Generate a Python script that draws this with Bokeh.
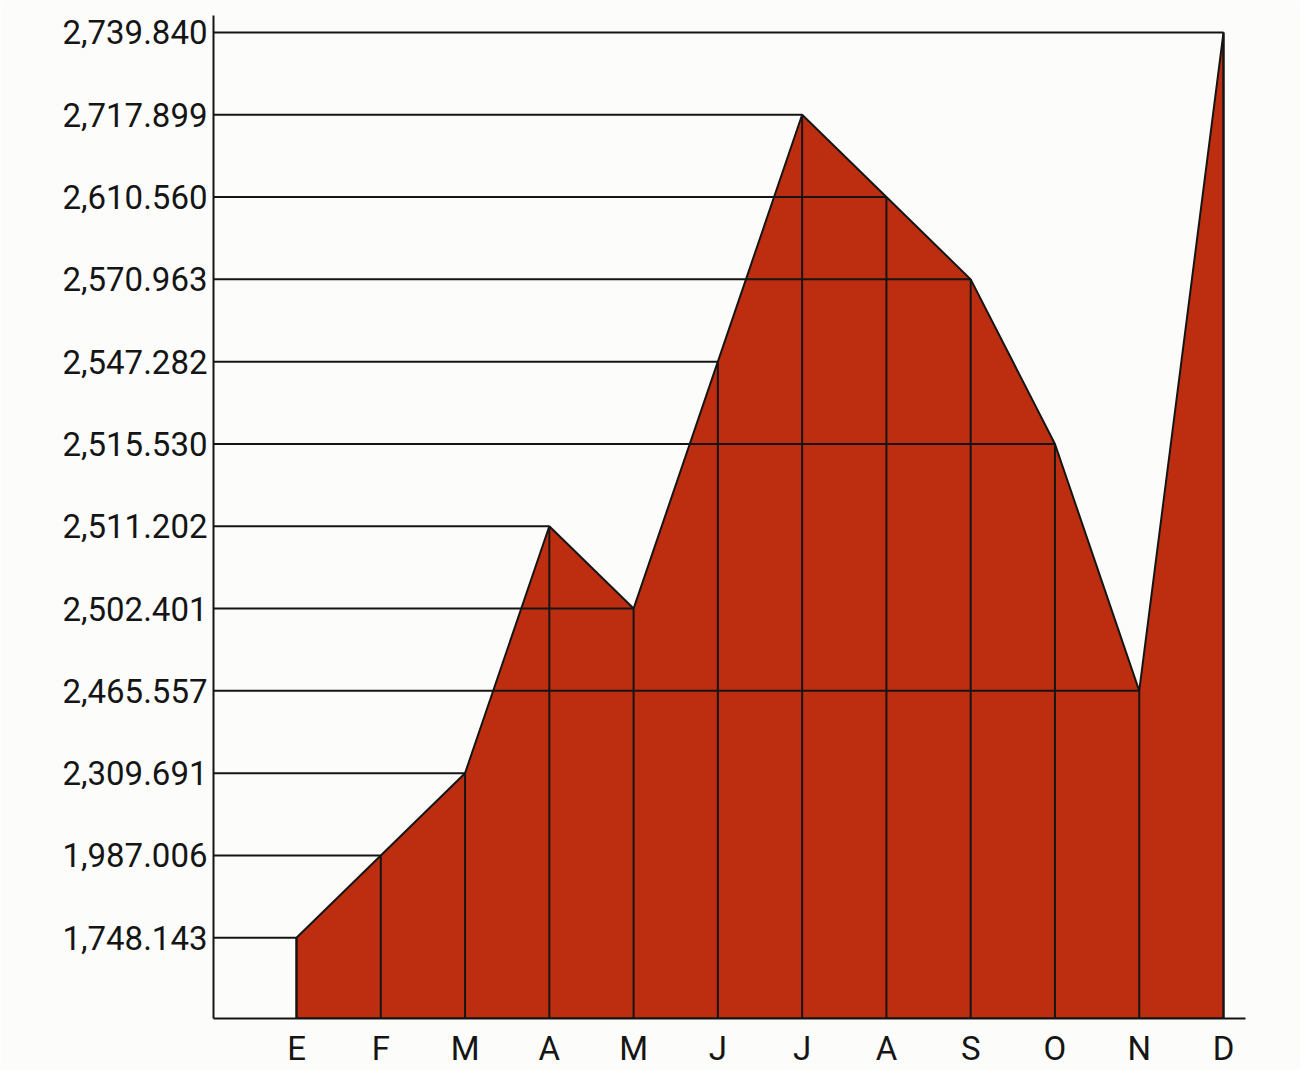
from bokeh.plotting import figure
from bokeh.models import ColumnDataSource, FixedTicker, Range1d
from bokeh.embed import file_html
from bokeh.resources import INLINE

# ---- data ----
months = ["E", "F", "M", "A", "M", "J", "J", "A", "S", "O", "N", "D"]
values = [1748.143, 1987.006, 2309.691, 2511.202, 2502.401, 2547.282,
          2717.899, 2610.560, 2570.963, 2515.530, 2465.557, 2739.840]
value_labels = ["1,748.143", "1,987.006", "2,309.691", "2,511.202", "2,502.401", "2,547.282",
                "2,717.899", "2,610.560", "2,570.963", "2,515.530", "2,465.557", "2,739.840"]

# the original vertical scale is ordinal: each value gets its own evenly spaced level
order = sorted(values)
ranks = [order.index(v) for v in values]
xs = list(range(len(months)))

FILL = "#bd2e10"
INK = "#151515"
FONT = "Roboto"

x_range = Range1d(-0.985, 11.261)
y_range = Range1d(-0.981, 11.206)

W, H = 1300, 1070
p = figure(width=W, height=H, x_range=x_range, y_range=y_range,
           output_backend="svg", toolbar_location=None,
           min_border_left=213, min_border_right=W - 1245, min_border_top=15,
           min_border_bottom=H - 1021)
p.background_fill_color = "#fcfcfa"
p.border_fill_color = "#fcfcfa"
p.outline_line_color = None
p.grid.visible = False

x0 = x_range.start
y0 = y_range.start

# filled area
px = [xs[0]] + xs + [xs[-1]]
py = [y0] + ranks + [y0]
p.patch(px, py, fill_color=FILL, line_color=INK, line_width=2)

# horizontal guide lines from axis to each point
hsrc = ColumnDataSource(dict(x0=[x0] * len(xs), y0=ranks, x1=xs, y1=ranks))
p.segment(x0="x0", y0="y0", x1="x1", y1="y1", source=hsrc, line_color=INK, line_width=2)

# vertical lines from baseline to each point
vsrc = ColumnDataSource(dict(x0=xs, y0=[y0] * len(xs), x1=xs, y1=ranks))
p.segment(x0="x0", y0="y0", x1="x1", y1="y1", source=vsrc, line_color=INK, line_width=2)

# axes
p.yaxis.ticker = FixedTicker(ticks=sorted(ranks))
p.yaxis.major_label_overrides = {r: lab for r, lab in zip(ranks, value_labels)}
p.xaxis.ticker = FixedTicker(ticks=xs)
p.xaxis.major_label_overrides = {x: m for x, m in zip(xs, months)}

for ax in (p.xaxis[0], p.yaxis[0]):
    ax.axis_line_color = INK
    ax.axis_line_width = 2
    ax.major_tick_in = 0
    ax.major_tick_out = 0
    ax.minor_tick_line_color = None
    ax.major_label_text_font = FONT
    ax.major_label_text_font_size = "33px"
    ax.major_label_text_color = INK

p.yaxis.major_label_standoff = 6
p.xaxis.major_label_standoff = 10

open("out.html", "w").write(file_html(p, INLINE))
